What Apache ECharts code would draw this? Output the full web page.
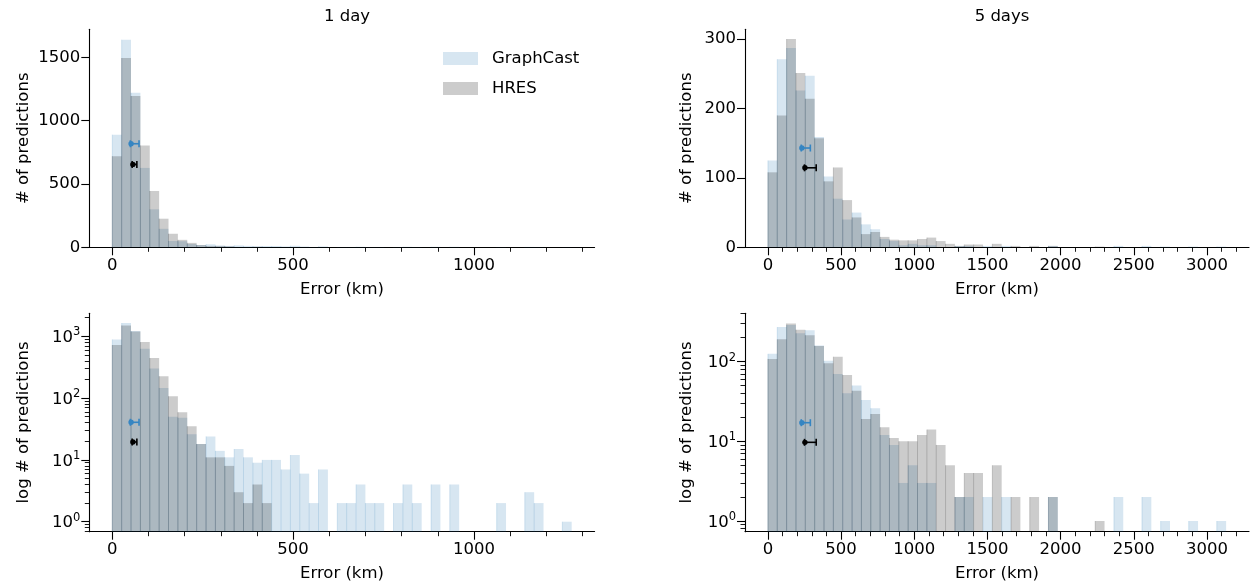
<!DOCTYPE html>
<html>
<head>
<meta charset="utf-8">
<script src="https://cdn.jsdelivr.net/npm/echarts@6/dist/echarts.min.js"></script>
<style>
  html, body { margin: 0; padding: 0; background: #fff; }
  #chart { width: 1251px; height: 587px; }
</style>
</head>
<body>
<div id="chart"></div>
<script>
// bin width (km) of the 49-bin histograms
const day1BinWidth = 25.92;
const day5BinWidth = 63.9;

// counts per bin, 1 day lead time
const day1GraphCast = [890, 1640, 1220, 627, 300, 146, 50, 48, 26, 18, 24, 14, 11, 15, 11, 9, 10, 10, 7, 12,
  6, 2, 7, 0, 2, 2, 4, 2, 2, 0, 2, 4, 2, 0, 4, 0, 4, 0, 0, 0, 0, 2, 0, 0, 3, 2, 0, 0, 1];
const day1Hres = [720, 1495, 1195, 805, 445, 226, 107, 59, 35, 18, 11, 11, 8, 3, 2, 4, 2, 0, 0, 0,
  0, 0, 0, 0, 0, 0, 0, 0, 0, 0, 0, 0, 0, 0, 0, 0, 0, 0, 0, 0, 0, 0, 0, 0, 0, 0, 0, 0, 0];

// counts per bin, 5 days lead time
const day5GraphCast = [125, 271, 287, 226, 247, 159, 102, 70, 40, 50, 33, 26, 12, 9, 3, 5, 3, 3, 0, 0,
  2, 2, 0, 2, 0, 2, 0, 0, 0, 0, 2, 0, 0, 0, 0, 0, 0, 2, 0, 0, 2, 0, 1, 0, 0, 1, 0, 0, 1];
const day5Hres = [108, 190, 300, 251, 214, 157, 95, 115, 68, 43, 19, 22, 15, 11, 10, 10, 12, 14, 9, 5,
  2, 4, 4, 0, 5, 0, 2, 0, 2, 0, 2, 0, 0, 0, 0, 1, 0, 0, 0, 0, 0, 0, 0, 0, 0, 0, 0, 0, 0];

// error bars [low, centre, high] in km
const day1GraphCastErr = [50, 52, 74];
const day1HresErr = [55, 57, 68];
const day5GraphCastErr = [228, 232, 290];
const day5HresErr = [250, 253, 330];
// heights at which the error bars sit [GraphCast, HRES]
const errYLin1 = [818, 655];
const errYLog1 = [40.6, 19.5];
const errYLin5 = [143, 114.5];
const errYLog5 = [17.1, 9.7];

// ticks
const xTicks1 = [0, 500, 1000];
const xMinor1 = [0, 100, 200, 300, 400, 500, 600, 700, 800, 900, 1000, 1100, 1200, 1300];
const xTicks5 = [0, 500, 1000, 1500, 2000, 2500, 3000];
const xMinor5 = [0, 100, 200, 300, 400, 500, 600, 700, 800, 900, 1000, 1100, 1200, 1300, 1400, 1500, 1600,
  1700, 1800, 1900, 2000, 2100, 2200, 2300, 2400, 2500, 2600, 2700, 2800, 2900, 3000, 3100, 3200];
const yTicksLin1 = [0, 500, 1000, 1500];
const yTicksLin5 = [0, 100, 200, 300];
const yTicksLog = [1, 10, 100, 1000];
const yMinorLog = [0.7, 0.8, 0.9, 2, 3, 4, 5, 6, 7, 8, 9, 20, 30, 40, 50, 60, 70, 80, 90,
  200, 300, 400, 500, 600, 700, 800, 900, 2000];

const FONT = 'DejaVu Sans';
const FS = 16.5;
const BLUE_FILL = 'rgba(31,119,180,0.18)';
const GRAY_FILL = 'rgba(0,0,0,0.2)';
const BLUE_ERR = '#3585c2';

const chart = echarts.init(document.getElementById('chart'));

const panels = [
  { grid: { left: 89.3, top: 29.3, width: 505.3, height: 218 }, xMin: -63.5, xMax: 1333.5, xTicks: xTicks1, xMinor: xMinor1,
    log: false, yMin: 0, yMax: 1722, yTicks: yTicksLin1, yName: '# of predictions', nameGap: 57,
    gc: day1GraphCast, hres: day1Hres, w: day1BinWidth, gcErr: day1GraphCastErr, hresErr: day1HresErr, errY: errYLin1 },
  { grid: { left: 745, top: 29.3, width: 504, height: 218 }, xMin: -156.5, xMax: 3287.5, xTicks: xTicks5, xMinor: xMinor5,
    log: false, yMin: 0, yMax: 314, yTicks: yTicksLin5, yName: '# of predictions', nameGap: 50,
    gc: day5GraphCast, hres: day5Hres, w: day5BinWidth, gcErr: day5GraphCastErr, hresErr: day5HresErr, errY: errYLin5 },
  { grid: { left: 89.3, top: 313.3, width: 505.3, height: 218.4 }, xMin: -63.5, xMax: 1333.5, xTicks: xTicks1, xMinor: xMinor1,
    log: true, yMin: 0.689, yMax: 2355, yTicks: yTicksLog, yName: 'log # of predictions', nameGap: 57,
    gc: day1GraphCast, hres: day1Hres, w: day1BinWidth, gcErr: day1GraphCastErr, hresErr: day1HresErr, errY: errYLog1 },
  { grid: { left: 745, top: 313.3, width: 504, height: 218.4 }, xMin: -156.5, xMax: 3287.5, xTicks: xTicks5, xMinor: xMinor5,
    log: true, yMin: 0.734, yMax: 403, yTicks: yTicksLog, yName: 'log # of predictions', nameGap: 50,
    gc: day5GraphCast, hres: day5Hres, w: day5BinWidth, gcErr: day5GraphCastErr, hresErr: day5HresErr, errY: errYLog5 },
];

const txt = { color: '#000', fontSize: FS, fontFamily: FONT };
const plain = (v) => String(v);

const binData = (counts, w) => counts.map((c, i) => [i * w, (i + 1) * w, c]);

const renderBars = (fill, base) => (params, api) => {
  const v = api.value(2);
  if (!v) return null;
  const tl = api.coord([api.value(0), v]);
  const br = api.coord([api.value(1), base]);
  return {
    type: 'group',
    children: [
      { type: 'rect', shape: { x: tl[0], y: tl[1], width: br[0] - tl[0], height: br[1] - tl[1] }, style: { fill: fill } },
      { type: 'line', shape: { x1: tl[0], y1: tl[1], x2: tl[0], y2: br[1] }, style: { stroke: fill, lineWidth: 0.9 } },
    ],
  };
};

const renderErr = (color) => (params, api) => {
  const y = api.value(3);
  const lo = api.coord([api.value(0), y]);
  const mid = api.coord([api.value(1), y]);
  const hi = api.coord([api.value(2), y]);
  const st = { stroke: color, lineWidth: 1.6 };
  return {
    type: 'group',
    children: [
      { type: 'line', shape: { x1: lo[0], y1: lo[1], x2: hi[0], y2: hi[1] }, style: st },
      { type: 'line', shape: { x1: lo[0], y1: lo[1] - 3.5, x2: lo[0], y2: lo[1] + 3.5 }, style: st },
      { type: 'line', shape: { x1: hi[0], y1: hi[1] - 3.5, x2: hi[0], y2: hi[1] + 3.5 }, style: st },
      { type: 'circle', shape: { cx: mid[0], cy: mid[1], r: 2.7 }, style: { fill: color } },
    ],
  };
};

const grids = [], xAxes = [], yAxes = [], series = [];

panels.forEach((p, g) => {
  grids.push(p.grid);
  const xMajor = xAxes.length;
  xAxes.push({
    gridIndex: g, type: 'value', min: p.xMin, max: p.xMax, position: 'bottom',
    axisLine: { show: true, onZero: false, lineStyle: { color: '#000', width: 1.1 } },
    axisTick: { show: true, length: 8, customValues: p.xTicks, lineStyle: { color: '#000', width: 1.1 } },
    axisLabel: { customValues: p.xTicks, margin: 10, formatter: plain, ...txt },
    splitLine: { show: false },
    name: 'Error (km)', nameLocation: 'middle', nameGap: 34, nameTextStyle: txt,
  });
  xAxes.push({
    gridIndex: g, type: 'value', min: p.xMin, max: p.xMax, position: 'bottom',
    axisLine: { show: false, onZero: false },
    axisTick: { show: true, length: 4.5, customValues: p.xMinor, lineStyle: { color: '#000', width: 0.9 } },
    axisLabel: { show: false },
    splitLine: { show: false },
  });
  const yMajor = yAxes.length;
  const yAxis = {
    gridIndex: g, type: p.log ? 'log' : 'value', min: p.yMin, max: p.yMax, position: 'left',
    axisLine: { show: true, onZero: false, lineStyle: { color: '#000', width: 1.1 } },
    axisTick: { show: true, length: 8, customValues: p.yTicks, lineStyle: { color: '#000', width: 1.1 } },
    axisLabel: { customValues: p.yTicks, margin: 9, formatter: plain, ...txt },
    splitLine: { show: false },
    name: p.yName, nameLocation: 'middle', nameGap: p.nameGap, nameTextStyle: txt,
  };
  if (p.log) {
    yAxis.logBase = 10;
    yAxis.axisLabel.formatter = (v) => '{b|10}{s|' + Math.round(Math.log10(v)) + '}';
    yAxis.axisLabel.rich = {
      b: { fontSize: FS, fontFamily: FONT, color: '#000', lineHeight: 20, verticalAlign: 'bottom' },
      s: { fontSize: 11.5, fontFamily: FONT, color: '#000', lineHeight: 20, verticalAlign: 'top' },
    };
  }
  yAxes.push(yAxis);
  if (p.log) {
    yAxes.push({
      gridIndex: g, type: 'log', logBase: 10, min: p.yMin, max: p.yMax, position: 'left',
      axisLine: { show: false, onZero: false },
      axisTick: { show: true, length: 4.5, customValues: yMinorLog.filter(v => v >= p.yMin && v <= p.yMax), lineStyle: { color: '#000', width: 0.9 } },
      axisLabel: { show: false },
      splitLine: { show: false },
    });
  }
  const base = p.log ? p.yMin : 0;
  series.push({
    name: 'GraphCast', type: 'custom', xAxisIndex: xMajor, yAxisIndex: yMajor,
    itemStyle: { color: BLUE_FILL }, renderItem: renderBars(BLUE_FILL, base),
    encode: { x: [0, 1], y: 2 }, data: binData(p.gc, p.w), silent: true,
  });
  series.push({
    name: 'HRES', type: 'custom', xAxisIndex: xMajor, yAxisIndex: yMajor,
    itemStyle: { color: GRAY_FILL }, renderItem: renderBars(GRAY_FILL, base),
    encode: { x: [0, 1], y: 2 }, data: binData(p.hres, p.w), silent: true,
  });
  series.push({
    name: 'GraphCast error', type: 'custom', xAxisIndex: xMajor, yAxisIndex: yMajor, z: 5,
    renderItem: renderErr(BLUE_ERR), encode: { x: [0, 1, 2], y: 3 },
    data: [[...p.gcErr, p.errY[0]]], silent: true,
  });
  series.push({
    name: 'HRES error', type: 'custom', xAxisIndex: xMajor, yAxisIndex: yMajor, z: 5,
    renderItem: renderErr('#000'), encode: { x: [0, 1, 2], y: 3 },
    data: [[...p.hresErr, p.errY[1]]], silent: true,
  });
});

chart.setOption({
  animation: false,
  backgroundColor: '#fff',
  title: [
    { text: '1 day', left: 342, top: 3, textAlign: 'center', textStyle: { ...txt, fontWeight: 'normal' } },
    { text: '5 days', left: 997, top: 3, textAlign: 'center', textStyle: { ...txt, fontWeight: 'normal' } },
  ],
  legend: {
    data: ['GraphCast', 'HRES'], orient: 'vertical', left: 438, top: 45,
    itemWidth: 35, itemHeight: 13, itemGap: 13, icon: 'rect', selectedMode: false,
    textStyle: { ...txt, padding: [0, 0, 0, 9] },
  },
  grid: grids,
  xAxis: xAxes,
  yAxis: yAxes,
  series: series,
});
</script>
</body>
</html>
